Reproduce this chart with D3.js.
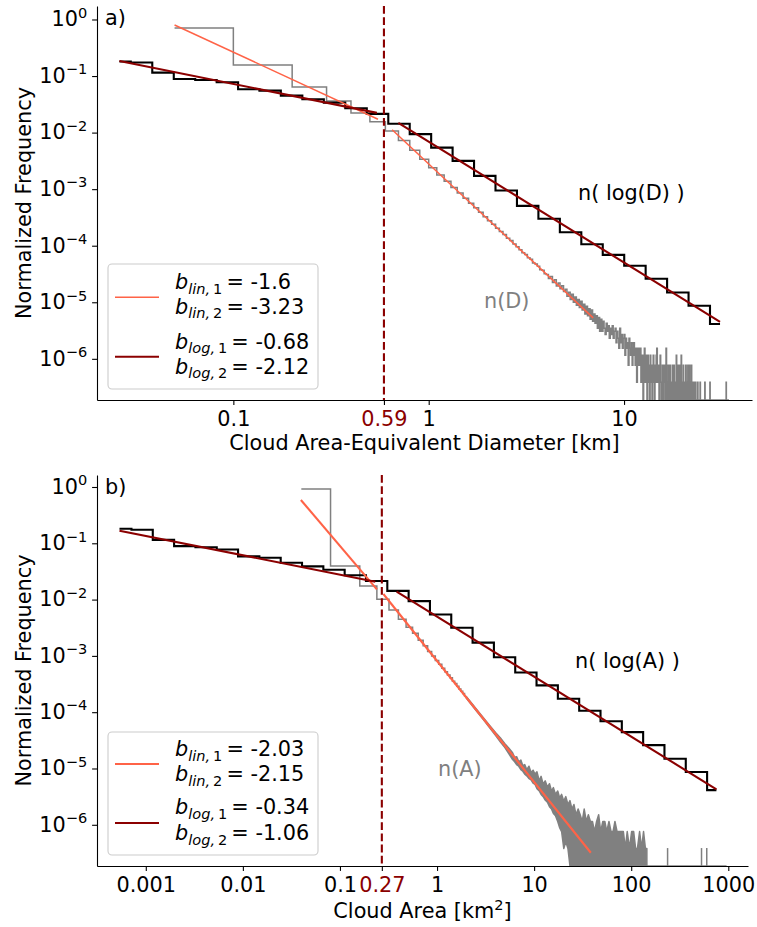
<!DOCTYPE html>
<meta charset="utf-8">
<body style="margin:0;background:#fff">
<script src="https://cdn.jsdelivr.net/npm/d3@7/dist/d3.min.js"></script>
<script>

    var width = 757,
        height = 927;

    // ---- data ----

    // n(log D) and n(log A): log-spaced bins (same counts on both axes)
    var logBinD = [0.0261,0.0336,0.0433,0.0558,0.0718,0.0925,0.119,0.153,0.197,0.254,0.327,0.421,0.543,0.699,0.900,
                   1.159,1.492,1.921,2.474,3.186,4.102,5.283,6.802,8.758,11.28,14.52,18.70,24.08,31.00];
    var logBinA = [0.000536,0.000888,0.001473,0.002442,0.004050,0.006714,0.01113,0.01846,0.03060,0.05074,0.08414,0.1395,
                   0.2313,0.3836,0.6360,1.054,1.748,2.899,4.806,7.969,13.21,21.91,36.33,60.24,99.86,165.6,274.5,455.2,754.7];
    var nLog = [0.181,0.174,0.115,0.0889,0.0853,0.0777,0.0585,0.0552,0.0451,0.0389,0.0339,0.0270,0.0214,0.0143,0.00938,
                0.00543,0.00316,0.00172,0.000944,0.000507,0.000299,0.000173,0.000106,6.9e-5,4.42e-5,2.60e-5,1.49e-5,8.67e-6,4.12e-6];

    // n(D): linear bins of 0.1 km, centres 0.05, 0.15, ...
    var binWidthD = 0.1;
    var nD_log10 = [-0.150,-0.804,-1.193,-1.440,-1.652,-1.81,-1.97,-2.14,-2.31,-2.47,-2.62,-2.75,-2.86,-2.97,-3.07,
                    -3.16,-3.25,-3.33,-3.41,-3.49,-3.56,-3.62,-3.69,-3.75,-3.80,-3.87,-3.91,-3.97,-4.02,-4.07];
    // tail of n(D) as cloud counts (one cloud = countUnit)
    var countUnit = 3.86e-7;
    var nD_tailCounts = [
        194,181,158,149,128,123,112,97,95,83, 80,68,74,58,65,50,57,45,51,40, 44,33,39,29,36,26,32,23,29,21,
        27,19,24,16,22,15,20,13,19,12, 16,11,15,9,14,8,13,8,12,9, 7,11,8,10,6,9,7,10,6,8,
        9,5,8,6,4,9,5,7,4,6, 7,3,6,4,5,2,6,4,3,5, 2,4,5,3,2,4,1,3,4,2,
        3,4,1,2,3,0,2,4,1,3, 2,0,3,1,2,0,3,2,1,0, 2,3,1,0,2,1,3,4,1,2,
        1,0,2,3,1,0,1,2,0,2, 1,2,0,1,4,0,1,0,2,1, 0,1,2,0,1,0,1,2,0,1,
        2,0,1,0,1,3,0,1,0,2, 0,1,0,2,1,0,3,0,1,0, 1,2,0,1,0,1,0,2,1,0,
        0,1,2,0,1,0,2,0,1,1, 0,2,0,1,0,1,0,0,1,0, 0,0,1,0,0,0,0,0,1,0,
        0,0,0,0,0,1,0,0,0,0, 0,0,0,0,0,0,0,0,0,1, 0,0,0,0,0,0,0,0,0,0,
        0,0,0,0,0,1,0,0,0,0, 0,0,0,0,0,0,0,0,0,0, 0,0,0,0,0,0,0,0,0,0,
        0,0,0,0,0,0,0,0,0,0, 0,0,0,0,0,0,0,0,0,0, 0,0,0,0,0,0,0,0,0,0,
        0,0,0,1,0,0,0,0,0,0, 0,0,0,0,0];

    // n(A): linear bins of 0.08 km2, centres 0.04, 0.12, ...
    var binWidthA = 0.08;
    var nA_log10 = [-0.036,-1.403,-1.758,-1.995,-2.185,-2.350,-2.49,-2.60,-2.72,-2.82,-2.92,-3.00,-3.08,-3.15,-3.22,
                    -3.28,-3.34,-3.39,-3.45,-3.49,-3.54,-3.59,-3.63,-3.67,-3.71];
    // beyond 2 km2 the bins are narrower than a pixel: upper / lower envelope (log10), null = empty bins
    var nA_bandA = [2.0,2.5,3.0,3.5,4.0,4.5,5.0,5.5,
        6.0,6.3,6.6,6.95,7.3,7.65,8.0,8.4,8.85,9.3,9.75,10.2,10.7,11.3,11.8,12.4,13.0,13.7,14.4,15.1,15.8,16.6,17.5,
        18.3,19.2,20.2,21.2,22.3,23.4,24.5,25.7,27,28.4,29.8,31.3,32.8,34.5,36.2,38,39.9,41.9,44,46.2,48.5,51,53.5,
        56,59,62,65,68,71.5,75,79,83,87,91,96,101,106,111,116,122,128,134,140,145];
    var nA_bandUpper = [-3.72,-3.93,-4.10,-4.24,-4.36,-4.46,-4.56,-4.64,
        -4.72,-4.80,-4.79,-4.88,-4.85,-4.95,-4.93,-5.02,-4.96,-5.07,-5.03,-5.10,-5.06,-5.22,-5.14,-5.28,-5.22,-5.33,
        -5.27,-5.40,-5.34,-5.46,-5.40,-5.52,-5.46,-5.58,-5.50,-5.64,-5.57,-5.72,-5.64,-5.82,-5.72,-5.82,-5.94,-5.72,
        -5.94,-5.82,-5.94,-5.94,-6.12,-5.94,-5.82,-6.12,-5.94,-5.94,-6.12,-5.94,-6.12,-6.12,-5.94,-6.12,-6.12,-6.12,
        -6.12,-6.42,-6.12,-6.42,-6.12,-6.12,-6.42,-6.42,-6.12,-6.42,-6.12,-6.42,-6.42];
    var nA_bandLower = [-3.75,-3.96,-4.13,-4.28,-4.41,-4.53,-4.63,-4.74,
        -4.84,-4.88,-4.93,-4.96,-5.02,-5.05,-5.10,-5.13,-5.18,-5.20,-5.26,-5.28,-5.36,-5.40,-5.46,-5.50,-5.56,-5.60,
        -5.68,-5.72,-5.80,-5.84,-5.94,-6.05,-6.12,-6.42,-6.30,-6.42,
        null,null,null,null,null,null,null,null,null,null,null,null,null,null,null,null,null,null,null,null,null,
        null,null,null,null,null,null,null,null,null,null,null,null,null,null,null,null,null,null];
    var nA_singleA = [237, 530, 600];     // isolated bins with one cloud
    var nA_lastA = 960;

    // fitted power laws, [x, y] at the ends of each segment
    var fitLinD = [[[0.05, 0.80], [0.55, 0.01726]], [[0.65, 0.0112], [6.95, 5.3e-6]]];
    var fitLogD = [[[0.0261, 0.185], [0.543, 0.0223]], [[0.699, 0.0148], [31.0, 4.5e-6]]];
    var fitLinA = [[[0.0396, 0.588], [0.24, 0.01516]], [[0.28, 0.01256], [38.36, 3.19e-7]]];
    var fitLogA = [[[0.000536, 0.1675], [0.2313, 0.0208]], [[0.3836, 0.0138], [754.7, 4.27e-6]]];

    var bLinD = ["-1.6", "-3.23"], bLogD = ["-0.68", "-2.12"];
    var bLinA = ["-2.03", "-2.15"], bLogA = ["-0.34", "-1.06"];
    var breakD = 0.59, breakA = 0.27;

    var xTicksD = [0.1, 0.59, 1, 10], xLabelsD = ["0.1", "0.59", "1", "10"];
    var xTicksA = [0.001, 0.01, 0.1, 0.27, 1, 10, 100, 1000];
    var xLabelsA = ["0.001", "0.01", "0.1", "0.27", "1", "10", "100", "1000"];
    var yExponents = [0, -1, -2, -3, -4, -5, -6];

    // ---- drawing ----
    var FS = 20.8;
    var svg = d3.select("body").append("svg")
            .attr("width", width)
            .attr("height", height)
            .style("font-family", "'DejaVu Sans'");

    var p10 = function(e) { return Math.pow(10, e); };

    var xD = d3.scaleLog().domain([p10(-1.698), p10(1.655)]).range([97, 752]);
    var yD = d3.scaleLog().domain([p10(-6.728), p10(0.2385)]).range([400, 6]);
    var xA = d3.scaleLog().domain([p10(-3.5025), p10(3.203)]).range([97, 748]);
    var yA = d3.scaleLog().domain([p10(-6.732), p10(0.213)]).range([866, 475]);

    // matplotlib "steps-mid": jumps half way between neighbouring x values
    function stepsMid(pts, x, y, floor) {
        var yy = function(v) { return v > 0 ? y(v) : floor; };
        var out = [[x(pts[0][0]), yy(pts[0][1])]];
        for (var i = 0; i < pts.length - 1; i++) {
            var m = x((pts[i][0] + pts[i + 1][0]) / 2);
            out.push([m, yy(pts[i][1])], [m, yy(pts[i + 1][1])]);
        }
        var last = pts[pts.length - 1];
        out.push([x(last[0]), yy(last[1])]);
        return d3.line()(out);
    }

    function segLine(seg, x, y) {
        return d3.line().x(function(d) { return x(d[0]); }).y(function(d) { return y(d[1]); })(seg);
    }

    function minorTicks(lo, hi) {
        var t = [];
        for (var e = Math.floor(Math.log10(lo)); e <= Math.ceil(Math.log10(hi)); e++)
            for (var m = 2; m <= 9; m++) {
                var v = m * p10(e);
                if (v >= lo && v <= hi) t.push(v);
            }
        return t;
    }

    function drawPanel(o) {
        var x = o.x, y = o.y;
        var x0 = x.range()[0], x1 = x.range()[1], yB = y.range()[0], yT = y.range()[1];

        svg.append("clipPath").attr("id", o.id).append("rect")
                .attr("x", x0).attr("y", yT).attr("width", x1 - x0).attr("height", yB - yT);
        var plot = svg.append("g").attr("clip-path", "url(#" + o.id + ")");

        o.gray(plot, yB);

        plot.append("path")
                .attr("d", stepsMid(o.logBins.map(function(b, i) { return [b, nLog[i]]; }), x, y, yB))
                .attr("fill", "none").attr("stroke", "#000").attr("stroke-width", 2.1);

        o.fitLin.forEach(function(s) {
            plot.append("path").attr("d", segLine(s, x, y))
                    .attr("fill", "none").attr("stroke", "tomato").attr("stroke-width", o.linWidth);
        });
        o.fitLog.forEach(function(s) {
            plot.append("path").attr("d", segLine(s, x, y))
                    .attr("fill", "none").attr("stroke", "darkred").attr("stroke-width", 2.1);
        });

        plot.append("line")
                .attr("x1", x(o.brk)).attr("x2", x(o.brk)).attr("y1", yT).attr("y2", yB)
                .attr("stroke", "darkred").attr("stroke-width", 2.1).attr("stroke-dasharray", "7.8,3.4");

        // axes
        var gx = svg.append("g").attr("transform", "translate(0," + yB + ")");
        gx.call(d3.axisBottom(x).tickValues(minorTicks(x.domain()[0], x.domain()[1]))
                .tickSize(2.8).tickSizeOuter(0).tickFormat(""));
        gx.call(d3.axisBottom(x).tickValues(o.xTicks).tickSize(4.9).tickSizeOuter(0)
                .tickPadding(6).tickFormat(function(d, i) { return o.xLabels[i]; }));
        gx.selectAll("text").attr("font-size", FS).attr("font-family", "'DejaVu Sans'")
                .attr("fill", function(d) { return d === o.brk ? "darkred" : "#000"; });

        var gy = svg.append("g").attr("transform", "translate(" + x0 + ",0)");
        gy.call(d3.axisLeft(y).tickValues(minorTicks(y.domain()[0], y.domain()[1]))
                .tickSize(2.8).tickSizeOuter(0).tickFormat(""));
        gy.call(d3.axisLeft(y).tickValues(yExponents.map(p10)).tickSize(4.9).tickSizeOuter(0).tickFormat(""));
        svg.selectAll(".domain").attr("stroke-width", 1.1);
        svg.selectAll(".tick line").attr("stroke-width", 1.1);

        yExponents.forEach(function(e) {
            var t = svg.append("text")
                    .attr("x", x0 - 9.8).attr("y", y(p10(e)) + 6.8)
                    .attr("text-anchor", "end").attr("font-size", FS);
            t.append("tspan").text("10");
            t.append("tspan").attr("font-size", FS * 0.7).attr("dy", -8.5)
                    .text(e === 0 ? "0" : "\u2212" + (-e));
        });

        svg.append("text")
                .attr("transform", "translate(31," + (yT + yB) / 2 + ") rotate(-90)")
                .attr("text-anchor", "middle").attr("font-size", FS)
                .text("Normalized Frequency");

        var xl = svg.append("text")
                .attr("x", (x0 + x1) / 2).attr("y", o.xLabelY)
                .attr("text-anchor", "middle").attr("font-size", FS);
        xl.append("tspan").text(o.xLabel);
        if (o.xLabelSup) {
            xl.append("tspan").attr("font-size", FS * 0.7).attr("dy", -8).text(o.xLabelSup);
            xl.append("tspan").attr("dy", 8).text("]");
        }

        svg.append("text").attr("x", 105).attr("y", yT + o.tagDy)
                .attr("font-size", FS).text(o.tag);

        o.notes.forEach(function(n) {
            svg.append("text").attr("x", n.x).attr("y", n.y)
                    .attr("font-size", FS).attr("fill", n.color).text(n.text);
        });

        // legend
        var L = o.legend;
        svg.append("rect")
                .attr("x", 108).attr("y", L.top).attr("width", 210).attr("height", L.h)
                .attr("rx", 4).attr("fill", "#fff").attr("fill-opacity", 0.8)
                .attr("stroke", "#ccc").attr("stroke-width", 1.1);
        [["tomato", o.linWidth, L.lineY[0]], ["darkred", 2.1, L.lineY[1]]].forEach(function(s) {
            svg.append("line").attr("x1", 115).attr("x2", 159).attr("y1", s[2]).attr("y2", s[2])
                    .attr("stroke", s[0]).attr("stroke-width", s[1]);
        });
        var rows = [["lin", "1", o.bLin[0]], ["lin", "2", o.bLin[1]], ["log", "1", o.bLog[0]], ["log", "2", o.bLog[1]]];
        rows.forEach(function(r, i) {
            var t = svg.append("text").attr("x", 175).attr("y", L.textY[i]).attr("font-size", FS);
            t.append("tspan").attr("font-style", "italic").text("b");
            t.append("tspan").attr("font-size", FS * 0.7).attr("dy", 4.5)
                    .attr("font-style", "italic").text(r[0] + ",\u2009");
            t.append("tspan").attr("font-size", FS * 0.7).text(r[1]);
            t.append("tspan").attr("dy", -4.5).text("\u2009= " + r[2]);
        });
    }

    // panel a)
    drawPanel({
        id: "clipA", x: xD, y: yD, logBins: logBinD, fitLin: fitLinD, fitLog: fitLogD, linWidth: 1.5,
        brk: breakD, xTicks: xTicksD, xLabels: xLabelsD,
        xLabel: "Cloud Area-Equivalent Diameter [km]", xLabelY: 450, tag: "a)", tagDy: 19,
        bLin: bLinD, bLog: bLogD,
        legend: { top: 264, h: 125, lineY: [297.3, 356.7], textY: [289, 313.5, 348.5, 373.5] },
        notes: [{ x: 578, y: 200, text: "n( log(D) )", color: "#000" },
                { x: 484, y: 308, text: "n(D)", color: "gray" }],
        gray: function(plot, floor) {
            var pts = nD_log10.map(function(v, i) { return [binWidthD * (i + 0.5), p10(v)]; });
            nD_tailCounts.forEach(function(c, j) {
                pts.push([binWidthD * (nD_log10.length + j + 0.5), c * countUnit]);
            });
            plot.append("path").attr("d", stepsMid(pts, xD, yD, floor))
                    .attr("fill", "none").attr("stroke", "gray").attr("stroke-width", 1.5);
        }
    });

    // panel b)
    drawPanel({
        id: "clipB", x: xA, y: yA, logBins: logBinA, fitLin: fitLinA, fitLog: fitLogA, linWidth: 2.1,
        brk: breakA, xTicks: xTicksA, xLabels: xLabelsA,
        xLabel: "Cloud Area [km", xLabelSup: "2", xLabelY: 918, tag: "b)", tagDy: 19,
        bLin: bLinA, bLog: bLogA,
        legend: { top: 732, h: 123, lineY: [764, 823], textY: [756, 781, 814, 840] },
        notes: [{ x: 575, y: 668, text: "n( log(A) )", color: "#000" },
                { x: 438, y: 776, text: "n(A)", color: "gray" }],
        gray: function(plot, floor) {
            var pts = nA_log10.map(function(v, i) { return [binWidthA * (i + 0.5), p10(v)]; });
            plot.append("path").attr("d", stepsMid(pts, xA, yA, floor))
                    .attr("fill", "none").attr("stroke", "gray").attr("stroke-width", 1.5);

            var band = nA_bandA.map(function(a, i) { return [xA(a), yA(p10(nA_bandUpper[i]))]; });
            for (var i = nA_bandA.length - 1; i >= 0; i--) {
                var lo = nA_bandLower[i];
                band.push([xA(nA_bandA[i]), lo === null ? floor : yA(p10(lo))]);
            }
            plot.append("path").attr("d", d3.line()(band) + "Z")
                    .attr("fill", "gray").attr("stroke", "gray").attr("stroke-width", 1.5)
                    .attr("stroke-linejoin", "round");

            plot.append("line")
                    .attr("x1", xA(nA_bandA[nA_bandA.length - 1])).attr("x2", xA(nA_lastA))
                    .attr("y1", floor).attr("y2", floor)
                    .attr("stroke", "gray").attr("stroke-width", 1.5);
            nA_singleA.forEach(function(a) {
                plot.append("line").attr("x1", xA(a)).attr("x2", xA(a))
                        .attr("y1", floor).attr("y2", yA(countUnit))
                        .attr("stroke", "gray").attr("stroke-width", 1.5);
            });
        }
    });

</script>
